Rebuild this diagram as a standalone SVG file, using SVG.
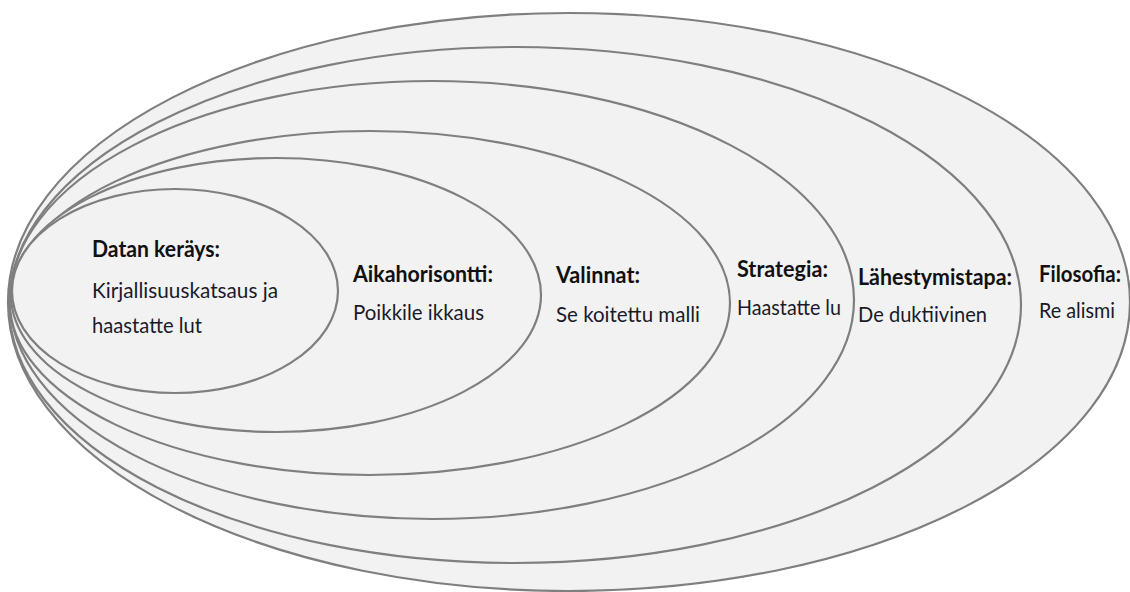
<svg xmlns="http://www.w3.org/2000/svg" width="1130" height="592" viewBox="0 0 1130 592">
  <style>
    .ring { fill: #f2f2f2; stroke: #7f7f7f; stroke-width: 2.2; }
    .head { font-family: Lato, "Open Sans", "Liberation Sans", sans-serif; font-weight: bold; font-size: 22px; fill: #111; }
    .body { font-family: Lato, "Open Sans", "Liberation Sans", sans-serif; font-size: 21px; fill: #1a1a2a; }
  </style>
  <rect width="1130" height="592" fill="#ffffff"/>

  <!-- nested research layers, drawn from the outermost inwards -->
  <g id="filosofia">
    <ellipse class="ring" cx="569" cy="302" rx="561" ry="289"/>
    <text class="head" x="1039" y="282" textLength="82" lengthAdjust="spacingAndGlyphs">Filosofia:</text>
    <text class="body" x="1039" y="318" textLength="76" lengthAdjust="spacingAndGlyphs">Re alismi</text>
  </g>

  <g id="lahestymistapa">
    <ellipse class="ring" cx="515" cy="305" rx="506" ry="258"/>
    <text class="head" x="858" y="285" textLength="154" lengthAdjust="spacingAndGlyphs">Lähestymistapa:</text>
    <text class="body" x="858" y="322" textLength="129" lengthAdjust="spacingAndGlyphs">De duktiivinen</text>
  </g>

  <g id="strategia">
    <ellipse class="ring" cx="432" cy="300" rx="422" ry="219"/>
    <text class="head" x="737" y="277" textLength="91" lengthAdjust="spacingAndGlyphs">Strategia:</text>
    <text class="body" x="737" y="315" textLength="104" lengthAdjust="spacingAndGlyphs">Haastatte lu</text>
  </g>

  <g id="valinnat">
    <ellipse class="ring" cx="370" cy="303" rx="360" ry="172"/>
    <text class="head" x="556" y="283" textLength="84" lengthAdjust="spacingAndGlyphs">Valinnat:</text>
    <text class="body" x="556" y="322" textLength="144" lengthAdjust="spacingAndGlyphs">Se koitettu malli</text>
  </g>

  <g id="aikahorisontti">
    <ellipse class="ring" cx="276" cy="295" rx="265" ry="137"/>
    <text class="head" x="353" y="282" textLength="140" lengthAdjust="spacingAndGlyphs">Aikahorisontti:</text>
    <text class="body" x="353" y="320" textLength="131" lengthAdjust="spacingAndGlyphs">Poikkile ikkaus</text>
  </g>

  <g id="datan-keruu">
    <ellipse class="ring" cx="175" cy="291" rx="163" ry="102"/>
    <text class="head" x="92" y="257" textLength="128" lengthAdjust="spacingAndGlyphs">Datan keräys:</text>
    <text class="body" x="92" y="298" textLength="186" lengthAdjust="spacingAndGlyphs">Kirjallisuuskatsaus ja</text>
    <text class="body" x="92" y="333" textLength="110" lengthAdjust="spacingAndGlyphs">haastatte lut</text>
  </g>
</svg>
